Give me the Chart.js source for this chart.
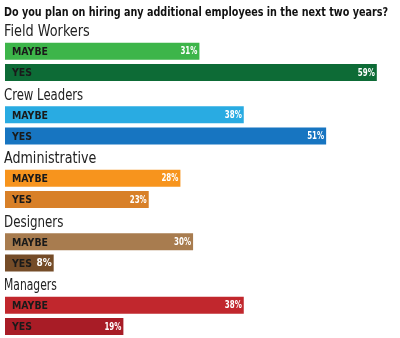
<!DOCTYPE html>
<html>
<head>
<meta charset="utf-8">
<script src="https://cdn.jsdelivr.net/npm/chart.js@4"></script>
<style>
  html, body { margin: 0; padding: 0; background: #ffffff; }
  #wrap { width: 400px; height: 338px; position: relative; }
</style>
</head>
<body>
<div id="wrap"><canvas id="chart"></canvas></div>
<script>
var title = "Do you plan on hiring any additional employees in the next two years?";
var groups = ["Field Workers", "Crew Leaders", "Administrative", "Designers", "Managers"];
var answers = ["MAYBE", "YES"];
var maybeValues = [31, 38, 28, 30, 38];
var yesValues = [59, 51, 23, 8, 19];
var maybeColors = ["#3db54a", "#29abe2", "#f7941d", "#a87c4f", "#c1272d"];
var yesColors = ["#0d6b36", "#1775c1", "#d88028", "#754c28", "#a81c26"];

// one header row + two bar rows per group
var rowLabels = [];
var rowValues = [];
var rowColors = [];
var rowKinds = [];
groups.forEach(function (g, i) {
    rowLabels.push(g); rowValues.push(null); rowColors.push("rgba(0,0,0,0)"); rowKinds.push("header");
    rowLabels.push(answers[0]); rowValues.push(maybeValues[i]); rowColors.push(maybeColors[i]); rowKinds.push("bar");
    rowLabels.push(answers[1]); rowValues.push(yesValues[i]); rowColors.push(yesColors[i]); rowKinds.push("bar");
});

var textPlugin = {
    id: "textPlugin",
    afterDatasetsDraw: function (chart) {
        var ctx = chart.ctx;
        var ys = chart.scales.y;
        var meta = chart.getDatasetMeta(0);
        ctx.save();
        ctx.textBaseline = "alphabetic";
        ctx.fillStyle = "#111111";
        ctx.font = "bold 13px 'DejaVu Sans Condensed', 'DejaVu Sans'";
        ctx.textAlign = "left";
        ctx.fillText(title, 4, 16, 384);

        rowLabels.forEach(function (lab, i) {
            var y = ys.getPixelForValue(i);
            if (rowKinds[i] === "header") {
                ctx.textBaseline = "alphabetic";
                ctx.fillStyle = "#222222";
                ctx.font = "15px 'DejaVu Sans Condensed', 'DejaVu Sans'";
                ctx.textAlign = "left";
                ctx.fillText(lab, 4, y + 6, lab.length * 6.6);
            } else {
                var bar = meta.data[i];
                ctx.textBaseline = "middle";
                ctx.fillStyle = "#1a1a1a";
                ctx.font = "bold 11px 'DejaVu Sans Condensed', 'DejaVu Sans'";
                ctx.textAlign = "left";
                ctx.fillText(lab, 12, y + 1, lab.length > 3 ? 36 : 20);
                ctx.fillStyle = "#ffffff";
                ctx.font = "bold 10px 'DejaVu Sans Condensed', 'DejaVu Sans'";
                ctx.textAlign = "right";
                ctx.fillText(rowValues[i] + "%", bar.x - 3, y + 0.5, 17);
            }
        });
        ctx.restore();
    }
};

new Chart(document.getElementById("chart"), {
    type: "bar",
    data: {
        labels: rowLabels,
        datasets: [{
            data: rowValues,
            backgroundColor: rowColors,
            borderColor: "rgba(255,255,255,0.25)",
            borderWidth: 1,
            borderSkipped: false,
            barPercentage: 0.9,
            categoryPercentage: 1
        }]
    },
    options: {
        indexAxis: "y",
        responsive: true,
        maintainAspectRatio: false,
        animation: false,
        layout: { padding: { top: 19.5, left: 4, right: 0, bottom: 1 } },
        plugins: {
            legend: { display: false },
            tooltip: { enabled: false }
        },
        scales: {
            x: { display: false, min: 0, max: 62.5 },
            y: { display: false }
        }
    },
    plugins: [textPlugin]
});
</script>
</body>
</html>
